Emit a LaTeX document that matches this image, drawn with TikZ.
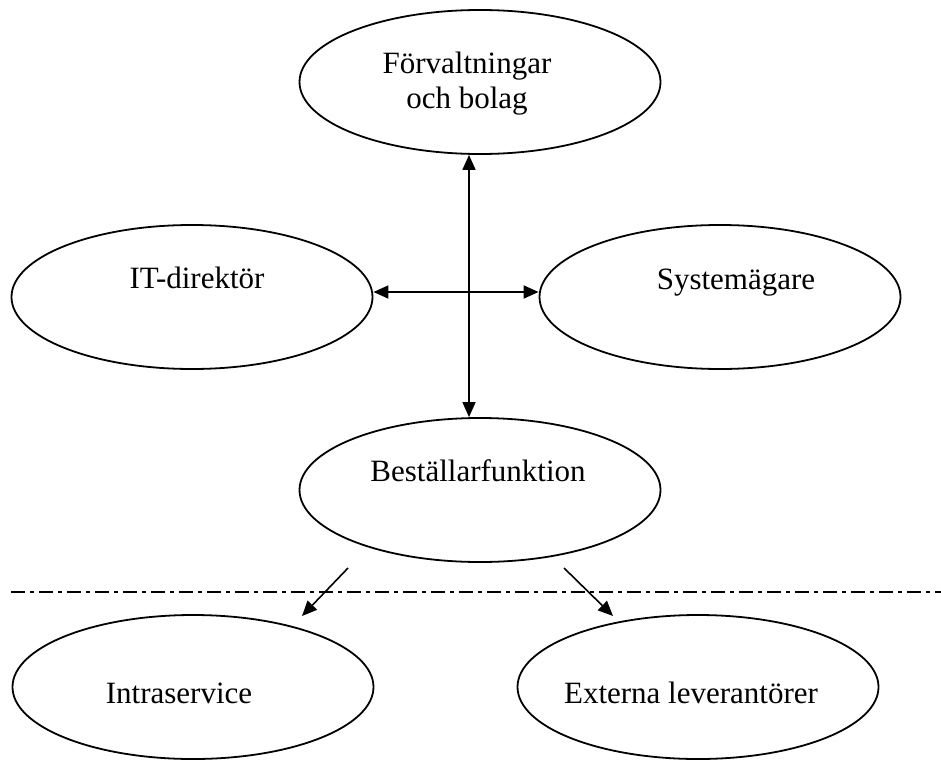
\documentclass[tikz,border=0pt]{standalone}
\usepackage{fontspec}
\setmainfont{Liberation Serif}
\usetikzlibrary{arrows.meta,shapes.geometric}
\begin{document}
\begin{tikzpicture}[x=1pt,y=-1pt,
  oval/.style={draw, line width=1.8pt, ellipse, minimum width=361pt, minimum height=144pt, inner sep=0pt},
  txt/.style={font=\fontsize{31}{34}\selectfont, inner sep=0pt, align=center},
  arr/.style={line width=1.6pt, -{Triangle[length=15pt,width=13pt]}},
  arrb/.style={line width=1.6pt, {Triangle[length=15pt,width=13pt]}-{Triangle[length=15pt,width=13pt]}},
  sep/.style={line width=1.8pt, dash pattern=on 14pt off 5pt on 4pt off 5pt}]
\useasboundingbox (0,0) rectangle (941,760);
% ellipses
\node[oval] (forv) at (480,82) {};
\node[oval] (itd) at (192,297) {};
\node[oval] (sys) at (720,297) {};
\node[oval] (best) at (480,490) {};
\node[oval] (intra) at (193,687) {};
\node[oval] (ext) at (698,687) {};
% texts
\node[txt, anchor=base] (forvT1) at ([shift={(-13pt,8pt)}]forv.center) {Förvaltningar};
\node[txt, anchor=base] (forvT2) at ([shift={(-13pt,-26pt)}]forv.center) {och bolag};
\node[txt, anchor=base] (itdT) at ([shift={(5pt,9pt)}]itd.center) {IT-direktör};
\node[txt, anchor=base] (sysT) at ([shift={(16pt,8pt)}]sys.center) {Systemägare};
\node[txt, anchor=base] (bestT) at ([shift={(-2pt,9pt)}]best.center) {Beställarfunktion};
\node[txt, anchor=base] (intraT) at ([shift={(-14pt,-16pt)}]intra.center) {Intraservice};
\node[txt, anchor=base] (extT) at ([shift={(-7pt,-16pt)}]ext.center) {Externa leverantörer};
% connectors
\draw[arrb] ([xshift=-11pt]forv.south) -- ([xshift=-11pt]best.north);
\draw[arrb] ([yshift=5pt]itd.east) -- ([yshift=5pt]sys.west);
\coordinate (d1s) at (348,568);
\coordinate (d1e) at (302,616);
\coordinate (d2s) at (564,568);
\coordinate (d2e) at (613,616);
\draw[arr] (d1s) -- (d1e);
\draw[arr] (d2s) -- (d2e);
% separator
\coordinate (sepL) at (11,592);
\coordinate (sepR) at (941,592);
\draw[sep] (sepL) -- (sepR);
\end{tikzpicture}
\end{document}
